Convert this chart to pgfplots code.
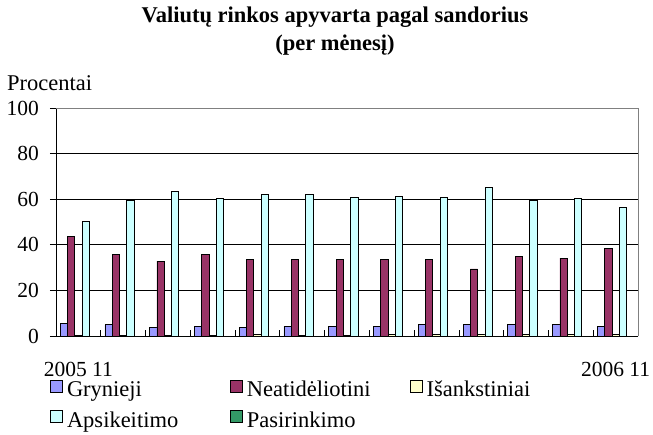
\documentclass[border=0pt]{standalone}
\usepackage{fontspec}
\setmainfont{Liberation Serif}
\usepackage{pgfplots}
\pgfplotsset{compat=1.18}
\definecolor{cG}{HTML}{9999FF}
\definecolor{cN}{HTML}{993366}
\definecolor{cI}{HTML}{FFFFCC}
\definecolor{cA}{HTML}{CCFFFF}
\definecolor{cP}{HTML}{339966}
\definecolor{bordergray}{HTML}{808080}
\begin{document}
\begin{tikzpicture}
\path[use as bounding box] (-56pt,-98pt) rectangle (597pt,336pt);
\begin{axis}[
  at={(0pt,0pt)}, anchor=south west,
  scale only axis, width=582pt, height=228pt,
  xmin=-0.5, xmax=12.5, ymin=0, ymax=100,
  ybar=0pt, bar width=7.3pt,
  axis x line*=bottom, axis y line*=left,
  axis line style={black, line width=0.8pt},
  ytick={0,20,...,100},
  ymajorgrids, grid style={black, line width=0.7pt},
  xtick={-0.5,0.5,...,12.5}, xticklabels={},
  extra x ticks={0,12}, extra x tick labels={2005 11,2006 11},
  extra x tick style={major tick length=0pt},
  tick align=inside, major tick length=6pt,
  tick style={black, line width=0.7pt},
  ytick style={xshift=-6pt},
  xticklabel style={anchor=base, inner sep=0pt, yshift=-40pt},
  yticklabel style={anchor=east, inner sep=0pt, xshift=-17pt},
  tick label style={font=\fontsize{21.5}{25}\selectfont},
  /pgf/number format/assume math mode=true,
  legend columns=3,
  legend style={at={(axis description cs:-0.0103,-0.19)}, anchor=north west,
    draw=none, fill=none, inner sep=0pt, column sep=0pt, row sep=10pt,
    font=\fontsize{22.5}{26}\selectfont,
    nodes={inner sep=0pt, text height=15pt, text depth=4pt}},
  legend image code/.code={\draw[#1, line width=0.8pt] (0pt,-1pt) rectangle (12pt,11pt);},
]
\addplot[draw=black, line width=0.8pt, fill=cG] coordinates {
(0,5.7) (1,4.9) (2,3.6) (3,4.2) (4,3.6) (5,4.2) (6,4.1) (7,4.1) (8,4.9) (9,4.9) (10,4.9) (11,4.9) (12,4.2)};
\addlegendentry{\hspace*{4pt}\makebox[163pt][l]{Grynieji}}
\addplot[draw=black, line width=0.8pt, fill=cN] coordinates {
(0,43.5) (1,35.8) (2,32.8) (3,35.8) (4,33.4) (5,33.4) (6,33.4) (7,33.4) (8,33.4) (9,29.4) (10,34.9) (11,34.2) (12,38.4)};
\addlegendentry{\hspace*{4pt}\makebox[163pt][l]{Neatidėliotini}}
\addplot[draw=black, line width=0.8pt, fill=cI] coordinates {
(0,0.1) (1,0.1) (2,0.1) (3,0.1) (4,0.6) (5,0.3) (6,0.4) (7,0.5) (8,0.5) (9,0.5) (10,0.5) (11,0.5) (12,0.5)};
\addlegendentry{\hspace*{4pt}\makebox[163pt][l]{Išankstiniai}}
\addplot[draw=black, line width=0.8pt, fill=cA] coordinates {
(0,50.3) (1,59.4) (2,63.5) (3,60.2) (4,62.0) (5,62.0) (6,60.8) (7,61.3) (8,60.8) (9,65.0) (10,59.4) (11,60.2) (12,56.5)};
\addlegendentry{\hspace*{4pt}\makebox[163pt][l]{Apsikeitimo}}
\addplot[draw=black, line width=0.8pt, fill=cP] coordinates {
(0,0) (1,0) (2,0) (3,0) (4,0) (5,0) (6,0) (7,0) (8,0) (9,0) (10,0) (11,0) (12,0)};
\addlegendentry{\hspace*{4pt}\makebox[163pt][l]{Pasirinkimo}}
\end{axis}
\draw[bordergray, line width=0.8pt] (0pt,228pt) -- (582pt,228pt) -- (582pt,0pt);
\node[anchor=base, inner sep=0pt, font=\bfseries\fontsize{22.5}{27}\selectfont] at (279pt,313pt) {Valiutų rinkos apyvarta pagal sandorius};
\node[anchor=base, inner sep=0pt, font=\bfseries\fontsize{22.5}{27}\selectfont] at (279pt,285pt) {(per mėnesį)};
\node[anchor=base west, inner sep=0pt, font=\fontsize{22.5}{26}\selectfont] at (-49pt,245pt) {Procentai};
\end{tikzpicture}
\end{document}
